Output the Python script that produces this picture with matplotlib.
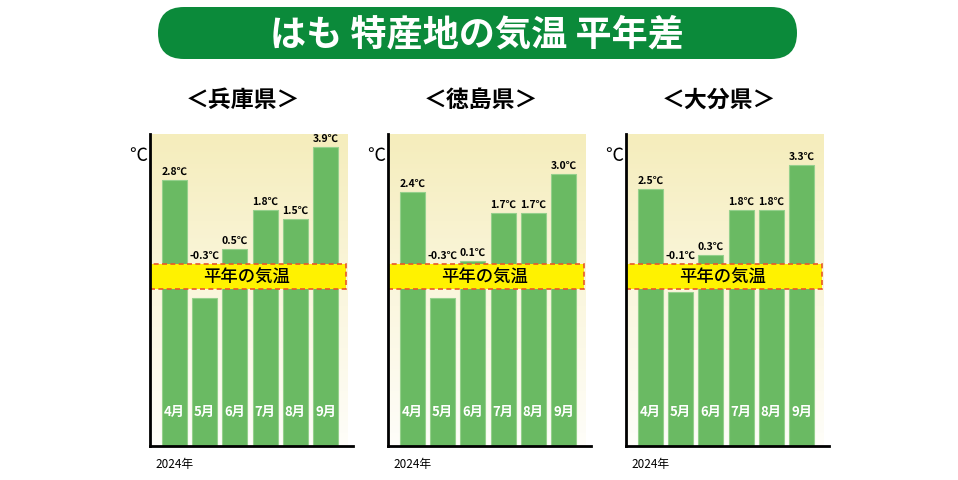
import numpy as np
import matplotlib
matplotlib.use('Agg')
import matplotlib.pyplot as plt
from matplotlib.patches import FancyBboxPatch
from matplotlib.colors import LinearSegmentedColormap

plt.rcParams['font.family'] = ['Noto Sans CJK JP', 'DejaVu Sans']

title = 'はも 特産地の気温 平年差'
months = ['4月', '5月', '6月', '7月', '8月', '9月']
year_label = '2024年'
band_label = '平年の気温'
prefectures = ['兵庫県', '徳島県', '大分県']
hyogo = [2.8, -0.3, 0.5, 1.8, 1.5, 3.9]
tokushima = [2.4, -0.3, 0.1, 1.7, 1.7, 3.0]
oita = [2.5, -0.1, 0.3, 1.8, 1.8, 3.3]
series = [hyogo, tokushima, oita]

W, H = 958, 481
fig = plt.figure(figsize=(W / 100, H / 100), dpi=100)

# full-figure overlay in pixel units for title and headings
bg = fig.add_axes([0, 0, 1, 1])
bg.set_xlim(0, W)
bg.set_ylim(H, 0)
bg.axis('off')
bg.add_patch(FancyBboxPatch((158, 8), 639, 52, boxstyle='round,pad=0,rounding_size=26',
                            fc='#0b8a3a', ec='none'))
bg.text(477, 35, title, color='white', fontsize=26, fontweight='bold', ha='center', va='center')

# schematic scale: 30px per degree, the "normal" band is 25px thick
px = 30.0
half = 12.5 / px
ytop = (277.5 - 135) / px
yfloor = -(447 - 277.5) / px

cmap = LinearSegmentedColormap.from_list('bg', ['#f5edbc', '#fbf7e0', '#ffffff'])
grad = np.linspace(0, 1, 256).reshape(-1, 1)

x = np.arange(len(months))
for i, (name, vals) in enumerate(zip(prefectures, series)):
    left = 150 + 238 * i
    ax = fig.add_axes([left / W, 1 - 447 / H, 200 / W, (447 - 135) / H])
    ax.set_xlim(-0.81, 5.81)
    ax.set_ylim(yfloor, ytop)
    ax.imshow(grad, extent=[-0.81, 5.72, yfloor, ytop], aspect='auto', cmap=cmap,
              vmin=0, vmax=1.1, zorder=0, origin='upper')

    vals = np.array(vals)
    tops = np.where(vals > 0, vals + half, vals - half)
    ax.bar(x, tops - yfloor, bottom=yfloor, width=0.83, color='#6aba63',
           edgecolor='#95d08c', linewidth=0.8, zorder=2)

    ax.axhspan(-half, half, xmin=0, xmax=0.98, facecolor='#fff200', edgecolor='#e8582a',
               linestyle=(0, (3, 2)), linewidth=1.2, zorder=3)
    ax.text(2.4, 0, band_label, ha='center', va='center', fontsize=12.5,
            fontweight='medium', zorder=4)

    for xi, v, t in zip(x, vals, tops):
        ax.text(xi, max(t, half) + 4 / px, f'{v:.1f}℃', ha='center', va='bottom',
                fontsize=7.5, fontweight='bold', zorder=4)
        ax.text(xi, -4.48, months[xi], ha='center', va='center', color='white',
                fontsize=9.5, fontweight='bold', zorder=4)

    for s in ['top', 'right']:
        ax.spines[s].set_visible(False)
    ax.spines['left'].set_linewidth(2)
    ax.spines['bottom'].set_linewidth(2)
    ax.spines['bottom'].set_bounds(-0.81, 5.9)
    ax.set_xticks([])
    ax.set_yticks([])
    ax.spines['bottom'].set_zorder(5)
    ax.spines['left'].set_zorder(5)

    bg.text(left + 93, 100, f'＜{name}＞', ha='center', va='center', fontsize=16.5, fontweight='bold')
    bg.text(left - 12, 156, '℃', ha='center', va='center', fontsize=13)
    bg.text(left + 5, 465, year_label, ha='left', va='center', fontsize=8.5)

fig.savefig('out.png', dpi=100)
